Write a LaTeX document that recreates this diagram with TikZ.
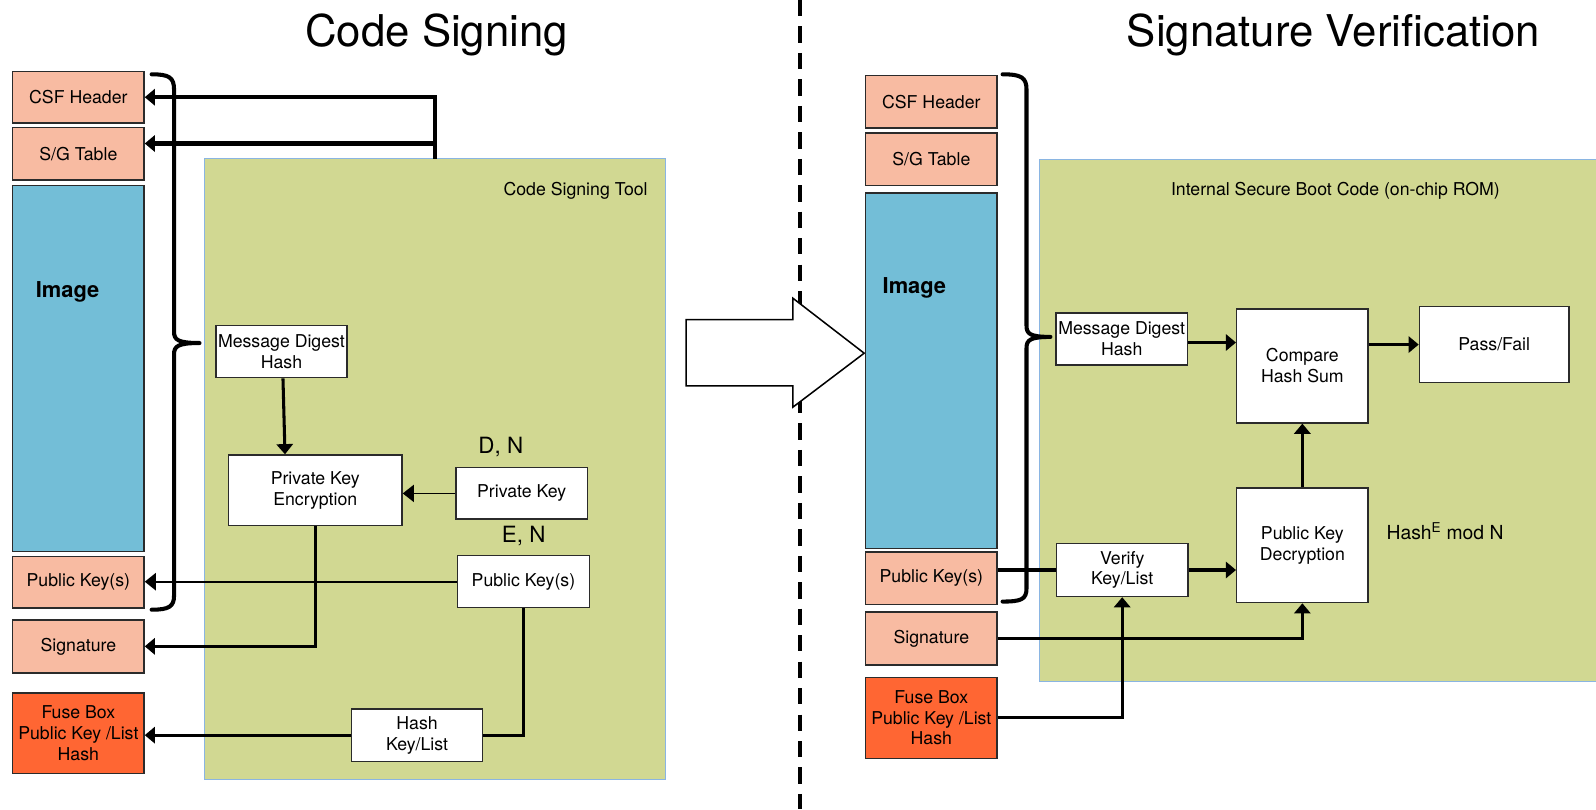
\documentclass[tikz,border=0pt]{standalone}
\usepackage{fontspec}
\setmainfont{TeX Gyre Heros}
\usetikzlibrary{arrows.meta}
\definecolor{segfill}{HTML}{F8BBA2}
\definecolor{imgfill}{HTML}{73BED7}
\definecolor{fusefill}{HTML}{FF6633}
\definecolor{toolfill}{HTML}{D1D892}
\definecolor{tooledge}{HTML}{8AB5E2}
\definecolor{edge}{HTML}{2B2B2B}
\begin{document}
\begin{tikzpicture}[x=1pt,y=-1pt,
  txt/.style={font=\fontsize{17.4}{20.5}\selectfont},
  seg/.style={txt, draw=edge, line width=1.4pt, fill=segfill, minimum width=129pt, inner sep=0pt, align=center},
  imgseg/.style={seg, fill=imgfill},
  fuseseg/.style={seg, fill=fusefill},
  proc/.style={txt, draw=edge, line width=1.4pt, fill=white, inner sep=0pt, align=center},
  tool/.style={fill=toolfill, draw=tooledge, line width=1.2pt},
  imgtxt/.style={font=\bfseries\fontsize{21.5}{24}\selectfont, anchor=base west, inner sep=0pt},
  keytxt/.style={font=\fontsize{22}{26}\selectfont},
  headline/.style={font=\fontsize{43}{50}\selectfont, anchor=base},
  flow/.style={line width=3pt, -{Triangle[length=10pt,width=16pt]}},
  flowthin/.style={line width=1.4pt, -{Triangle[length=11pt,width=17pt]}},
  link/.style={line width=3pt},
  brace/.style={line width=4pt, line join=round, line cap=round},
]
\useasboundingbox (0,0) rectangle (1568,795);

% separator between the two halves
\draw[line width=4pt, dash pattern=on 16pt off 10pt] (786,0) -- (786,795);

% titles
\node[headline] (titleL) at (429,46) {Code Signing};
\node[headline] (titleR) at (1310,46) {Signature Verification};

% tool areas
\path[tool] (201,156) rectangle (654,766);
\fill[toolfill] (1021,157) rectangle (1568,669.5);
\draw[tooledge, line width=1.2pt] (1568,157) -- (1021,157) -- (1021,669.5) -- (1568,669.5);
\node[txt] (toolL) at (565.5,187) {Code Signing Tool};
\node[txt] (toolR) at (1312,187.6) {Internal Secure Boot Code (on-chip ROM)};

% ---------- signing side: image layout ----------
\node[seg, minimum height=51pt] (csfL) at (77,95.5) {CSF Header};
\node[seg, minimum height=51.5pt] (sgL) at (77,151.25) {S/G Table};
\node[imgseg, minimum height=359.5pt] (imgL) at (77,362.25) {};
\node[imgtxt] (imgLtxt) at (35,292) {Image};
\node[seg, minimum height=51pt] (pkL) at (77,572) {Public Key(s)};
\node[seg, minimum height=52pt] (sigL) at (77,635) {Signature};
\node[fuseseg, minimum height=79pt] (fuseL) at (77,720.5) {Fuse Box\\Public Key /List\\Hash};

% signing tool steps
\node[proc, minimum width=129pt, minimum height=51pt] (mdhL) at (276.5,345.5) {Message Digest\\Hash};
\node[proc, minimum width=170.5pt, minimum height=69pt] (pkeL) at (309.75,481.5) {Private Key\\Encryption};
\node[proc, minimum width=129pt, minimum height=50.5pt] (privL) at (512.5,484.75) {Private Key};
\node[proc, minimum width=129.5pt, minimum height=51pt] (pubL) at (514.25,571.5) {Public Key(s)};
\node[proc, minimum width=128.5pt, minimum height=51.5pt] (hashL) at (409.75,722.25) {Hash\\Key/List};
\node[keytxt] (dn) at (492,439) {D, N};
\node[keytxt] (en) at (514.5,527) {E, N};

% signing connectors
\coordinate (tapTop) at (427,156);
\coordinate (tapSG) at (427,141);
\draw[flow, line width=4pt] (tapTop) |- (csfL.east);
\draw[flow, line width=4pt] (tapSG) -- (tapSG -| sgL.east);
\draw[flow] ([xshift=1.5pt]mdhL.south) -- ([xshift=-29.75pt]pkeL.north);
\draw[flowthin] (privL.west) -- (privL.west -| pkeL.east);
\draw[flowthin, line width=2.2pt] (pubL.west) -- (pubL.west -| pkL.east);
\draw[flow] (pkeL.south) |- (sigL.east);
\draw[link] (pubL.south) |- (hashL.east);
\draw[flow] (hashL.west) -- (hashL.west -| fuseL.east);

% brace grouping the signed regions
\draw[brace] (149,73) .. controls (166,73) and (171,76) .. (171,88) -- (171,326)
  .. controls (171,334) and (175,337) .. (196,337)
  .. controls (175,337) and (171,340) .. (171,348) -- (171,585)
  .. controls (171,596) and (166,599) .. (149,599);

% hand-over arrow
\draw[line width=1.5pt, fill=white] (674,314) -- (779,314) -- (779,293) -- (849,347)
  -- (779,400) -- (779,379) -- (674,379) -- cycle;

% ---------- verification side: image layout ----------
\node[seg, minimum height=51.5pt] (csfR) at (915,99.8) {CSF Header};
\node[seg, minimum height=52pt] (sgR) at (915,156.5) {S/G Table};
\node[imgseg, minimum height=349.5pt] (imgR) at (915,364.25) {};
\node[imgtxt] (imgRtxt) at (867,288) {Image};
\node[seg, minimum height=51.5pt] (pkR) at (915,568.25) {Public Key(s)};
\node[seg, minimum height=52pt] (sigR) at (915,627.4) {Signature};
\node[fuseseg, minimum height=79.6pt] (fuseR) at (915,705.2) {Fuse Box\\Public Key /List\\Hash};

% boot code steps
\node[proc, minimum width=129pt, minimum height=51pt] (mdhR) at (1102,333) {Message Digest\\Hash};
\node[proc, minimum width=129pt, minimum height=112pt] (cmpR) at (1279.5,359.5) {Compare\\Hash Sum};
\node[proc, minimum width=147pt, minimum height=75pt] (pfR) at (1468,338.5) {Pass/Fail};
\node[proc, minimum width=129pt, minimum height=112.5pt] (pkdR) at (1279.5,535.75) {Public Key\\Decryption};
\node[proc, minimum width=129pt, minimum height=52pt] (verR) at (1102.5,560) {Verify\\Key/List};
\node[font=\fontsize{19}{22}\selectfont, anchor=west, inner sep=0pt] (modN) at (1362,522) {Hash\textsuperscript{E} mod N};

% verification connectors
\draw[flow] ([yshift=-3.5pt]mdhR.east) -- ([yshift=-3.5pt]mdhR.east -| cmpR.west);
\draw[flow] (pfR.west -| cmpR.east) -- (pfR.west);
\draw[flow] (pkdR.north) -- (cmpR.south);
\draw[flow] (verR.east) -- (verR.east -| pkdR.west);
\draw[link] (verR.west -| pkR.east) -- (verR.west);
\draw[flow] (sigR.east) -| (pkdR.south);
\draw[flow] (fuseR.east) -| (verR.south);

% brace grouping the checked regions
\draw[brace] (985,73) .. controls (1003,73) and (1008.5,76) .. (1008.5,88) -- (1008.5,320)
  .. controls (1008.5,328) and (1012,331) .. (1032,331)
  .. controls (1012,331) and (1008.5,334) .. (1008.5,342) -- (1008.5,578)
  .. controls (1008.5,589) and (1003,591) .. (985,591);
\end{tikzpicture}
\end{document}
